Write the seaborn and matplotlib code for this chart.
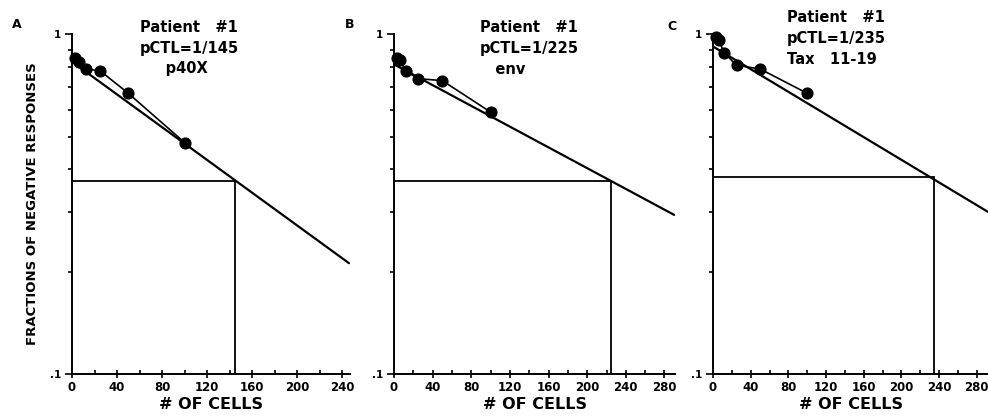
import matplotlib
matplotlib.use("Agg")
import matplotlib.pyplot as plt
import seaborn as sns
from matplotlib.ticker import FixedLocator, NullFormatter


# Data
cells = [3, 6, 12, 25, 50, 100]

frac_a = [0.85, 0.83, 0.79, 0.78, 0.67, 0.48]
frac_b = [0.85, 0.84, 0.78, 0.74, 0.73, 0.59]
frac_c = [0.98, 0.96, 0.88, 0.81, 0.79, 0.67]

# fitted lines, two end points each
fit_x_a = [0, 246]
fit_y_a = [0.83, 0.212]
fit_x_b = [0, 290]
fit_y_b = [0.815, 0.294]
fit_x_c = [0, 292]
fit_y_c = [0.92, 0.30]

pctl = [145, 225, 235]
ref_frac = [0.37, 0.37, 0.38]

letters = ["A", "B", "C"]
notes = [
    ["Patient   #1", "pCTL=1/145", "     p40X"],
    ["Patient   #1", "pCTL=1/225", "   env"],
    ["Patient   #1", "pCTL=1/235", "Tax   11-19"],
]

x_major = [
    [0, 40, 80, 120, 160, 200, 240],
    [0, 40, 80, 120, 160, 200, 240, 280],
    [0, 40, 80, 120, 160, 200, 240, 280],
]
x_minor = [
    [20, 60, 100, 140, 180, 220],
    [20, 60, 100, 140, 180, 220, 260],
    [20, 60, 100, 140, 180, 220, 260],
]
y_minor = [0.2, 0.3, 0.4, 0.5, 0.6, 0.7, 0.8, 0.9]


sns.set_style("ticks")
plt.rcParams["font.family"] = ["DejaVu Sans"]
plt.rcParams["font.weight"] = "bold"
plt.rcParams["text.color"] = "black"
plt.rcParams["axes.labelcolor"] = "black"
plt.rcParams["xtick.color"] = "black"
plt.rcParams["ytick.color"] = "black"
plt.rcParams["axes.edgecolor"] = "black"

fig = plt.figure(figsize=(9.88, 4.17), dpi=100)

# axes positions in figure fractions
rects = [
    [0.0729, 0.103, 0.2814, 0.815],
    [0.3988, 0.103, 0.2845, 0.815],
    [0.7217, 0.103, 0.2783, 0.815],
]
xmax = [247, 291, 292]

fracs = [frac_a, frac_b, frac_c]
fits = [(fit_x_a, fit_y_a), (fit_x_b, fit_y_b), (fit_x_c, fit_y_c)]
note_pos = [(140, 27), (480, 27), (787, 17)]
letter_pos = [(12, 25), (345, 25), (667, 27)]

for i in range(3):
    ax = fig.add_axes(rects[i])
    ax.set_yscale("log")
    ax.set_xlim(0, xmax[i])
    ax.set_ylim(0.1, 1)

    # data points joined
    sns.lineplot(
        x=cells, y=fracs[i], ax=ax, color="black",
        marker="o", markersize=8, markeredgecolor="black",
        linewidth=1.2, estimator=None, clip_on=False
    )

    # fitted line
    sns.lineplot(
        x=fits[i][0], y=fits[i][1], ax=ax, color="black",
        linewidth=1.6, estimator=None
    )

    # 37% reference lines
    ax.plot([0, pctl[i]], [ref_frac[i], ref_frac[i]], color="black", lw=1.3)
    ax.plot([pctl[i], pctl[i]], [0.1, ref_frac[i]], color="black", lw=1.3)

    ax.xaxis.set_major_locator(FixedLocator(x_major[i]))
    ax.xaxis.set_minor_locator(FixedLocator(x_minor[i]))
    ax.yaxis.set_major_locator(FixedLocator([0.1, 1]))
    ax.yaxis.set_minor_locator(FixedLocator(y_minor))
    ax.yaxis.set_minor_formatter(NullFormatter())
    ax.set_yticklabels([".1", "1"])

    ax.tick_params(axis="x", which="major", direction="inout", length=6,
                   width=1.2, labelsize=8.5, pad=2)
    ax.tick_params(axis="x", which="minor", direction="in", length=3, width=1.2)
    ax.tick_params(axis="y", which="major", direction="out", length=5,
                   width=1.2, labelsize=7.5, pad=3)
    ax.tick_params(axis="y", which="minor", direction="out", length=3, width=1.2)

    for s in ["left", "bottom"]:
        ax.spines[s].set_linewidth(1.4)
    sns.despine(ax=ax)

    ax.set_xlabel("# OF CELLS", fontsize=11.5, fontweight="bold", labelpad=2)
    ax.set_ylabel("")

    for j, line in enumerate(notes[i]):
        fig.text(note_pos[i][0] / 988, 1 - (note_pos[i][1] + 21 * j) / 417,
                 line, fontsize=10.5, fontweight="bold", va="center", ha="left")

    fig.text(letter_pos[i][0] / 988, 1 - letter_pos[i][1] / 417, letters[i],
             fontsize=9, fontweight="bold", va="center", ha="left")

fig.text(32 / 988, 1 - 204 / 417, "FRACTIONS OF NEGATIVE RESPONSES",
         rotation=90, fontsize=9.5, fontweight="bold", va="center", ha="center")

fig.savefig("out.png", dpi=100)
